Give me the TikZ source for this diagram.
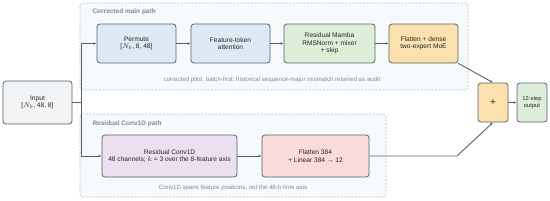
\documentclass[tikz,border=0pt]{standalone}
\usepackage{fontspec}
\setmainfont{Liberation Sans}
\usetikzlibrary{arrows.meta, positioning}

\definecolor{edgegray}{HTML}{55626D}
\definecolor{blockblue}{HTML}{DCEAF3}
\definecolor{blockgreen}{HTML}{DCEED8}
\definecolor{blockorange}{HTML}{FCE1AE}
\definecolor{blockpurple}{HTML}{ECE0F0}
\definecolor{blockpink}{HTML}{FADBDB}
\definecolor{inputgray}{HTML}{F1F3F4}
\definecolor{groupfill}{HTML}{F7FAFC}
\definecolor{groupline}{HTML}{B5BCC2}
\definecolor{notegray}{HTML}{7F8A93}

\begin{document}
\begin{tikzpicture}[x=1pt, y=-1pt,
    block/.style={draw=edgegray, line width=0.8pt, rounded corners=3pt, align=center,
      font=\fontsize{6.6}{7.3}\selectfont, text=black!85, inner sep=1pt},
    group/.style={draw=groupline, dash pattern=on 2pt off 1.5pt, line width=0.6pt, fill=groupfill, rounded corners=3pt},
    grouplabel/.style={anchor=west, font=\fontsize{6.5}{7}\selectfont\bfseries, text=notegray},
    note/.style={font=\fontsize{6.1}{7}\selectfont, text=notegray},
    link/.style={draw=edgegray, line width=0.9pt, -{Latex[length=3pt,width=2.6pt]}}]
  \useasboundingbox (0,0) rectangle (550,201);

  % gestrichelte Gruppen
  \draw[group] (80,3) rectangle (468,90);
  \node[grouplabel] (maintitle) at (89,12) {Corrected main path};
  \node[note] (mainnote) at (272,80) {corrected pilot: batch-first; historical sequence-major mismatch retained as audit};

  \draw[group] (80,114) rectangle (386,197);
  \node[grouplabel] (convtitle) at (89,124) {Residual Conv1D path};
  \node[note] (convnote) at (233,187.5) {Conv1D spans feature positions, not the 48-h time axis};

  % Bloecke
  \node[block, fill=inputgray, minimum width=69pt, minimum height=43pt] (input) at (37.5,102.5) {Input\\{}[$N_b$, 48, 8]};
  \node[block, fill=blockblue, minimum width=79pt, minimum height=39pt] (permute) at (136.5,43.5) {Permute\\{}[$N_b$, 8, 48]};
  \node[block, fill=blockblue, minimum width=79pt, minimum height=39pt] (attn) at (230.5,43.5) {Feature-token\\attention};
  \node[block, fill=blockgreen, minimum width=91pt, minimum height=39pt] (mamba) at (329.5,43.5) {Residual Mamba\\RMSNorm + mixer\\+ skip};
  \node[block, fill=blockorange, minimum width=69pt, minimum height=39pt] (moe) at (423.5,43.5) {Flatten + dense\\two-expert MoE};
  \node[block, fill=blockpurple, minimum width=135pt, minimum height=42pt] (conv) at (169.5,156) {Residual Conv1D\\48 channels; $k$ = 3 over the 8-feature axis};
  \node[block, fill=blockpink, minimum width=107pt, minimum height=42pt] (flat) at (315.5,156) {Flatten 384\\+ Linear 384 → 12};
  \node[block, fill=blockorange, minimum width=30pt, minimum height=39pt, font=\fontsize{10}{11}\selectfont] (plus) at (493,102.5) {+};
  \node[block, fill=blockgreen, minimum width=30pt, minimum height=39pt, font=\fontsize{5.8}{6.6}\selectfont] (out) at (532,102.5) {12-step\\output};

  % Verbindungen
  \coordinate (split) at (81,102.5);
  \coordinate (bend) at (457,156);
  \draw[draw=edgegray, line width=0.9pt] (input.east) -- (split);
  \draw[link] (split) |- (permute.west);
  \draw[link] (split) |- (conv.west);
  \draw[link] (permute) -- (attn);
  \draw[link] (attn) -- (mamba);
  \draw[link] (mamba) -- (moe);
  \draw[link] (moe.south east) -- (plus.north);
  \draw[link] (conv) -- (flat);
  \draw[link] (flat.east) -- (bend) -- (plus.south);
  \draw[link] (plus) -- (out);
\end{tikzpicture}
\end{document}
